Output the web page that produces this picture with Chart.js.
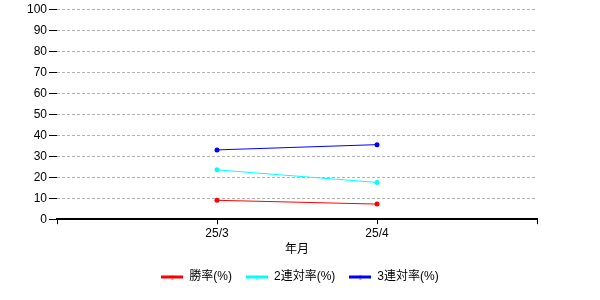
<!DOCTYPE html>
<html>
<head>
<meta charset="utf-8">
<script src="https://cdn.jsdelivr.net/npm/chart.js@4/dist/chart.umd.min.js"></script>
<style>
  html, body { margin: 0; padding: 0; background: #fff; }
  #wrap { width: 600px; height: 300px; }
</style>
</head>
<body>
<div id="wrap"><canvas id="myChart" width="600" height="300"></canvas></div>
<script>
// blank slots at both ends pad the category axis like the original
const months = ["", "25/3", "25/4", ""];
const winRate = [null, 9.0, 7.2, null];
const top2Rate = [null, 23.5, 17.5, null];
const top3Rate = [null, 33.0, 35.5, null];
const yTicks = [0, 10, 20, 30, 40, 50, 60, 70, 80, 90, 100];

const FONT = "'Liberation Sans', 'Noto Sans CJK JP', sans-serif";

// little "line with dot" marker for the legend
function legendMark(color) {
  const c = document.createElement("canvas");
  c.width = 22;
  c.height = 5;
  const g = c.getContext("2d");
  g.fillStyle = color;
  g.fillRect(0, 1, 22, 3);
  g.beginPath();
  g.arc(11, 2.5, 2, 0, Math.PI * 2);
  g.fill();
  return c;
}

function series(label, data, color) {
  return {
    label: label,
    data: data,
    borderColor: color,
    backgroundColor: color,
    borderWidth: 1,
    pointRadius: 2.5,
    pointHoverRadius: 2.5,
    pointBorderWidth: 0,
    pointStyle: "circle",
    legendStyle: legendMark(color),
  };
}

Chart.defaults.font.family = FONT;
Chart.defaults.font.size = 12;
Chart.defaults.color = "#000";

const ctx = document.getElementById("myChart").getContext("2d");
new Chart(ctx, {
  type: "line",
  data: {
    labels: months,
    datasets: [
      series("勝率(%)", winRate, "#ff0000"),
      series("2連対率(%)", top2Rate, "#00ffff"),
      series("3連対率(%)", top3Rate, "#0000ff"),
    ],
  },
  options: {
    responsive: false,
    animation: false,
    layout: {
      padding: { left: 0, right: 0, top: 5, bottom: 7 },
    },
    scales: {
      x: {
        offset: false,
        grid: {
          drawOnChartArea: false,
          drawTicks: true,
          tickLength: 5,
          tickColor: "#000",
        },
        border: { display: true, color: "#000", width: 2 },
        ticks: { padding: 2, maxRotation: 0, autoSkip: false, font: { size: 12 } },
        title: { display: true, text: "年月", padding: { top: 0, bottom: 0 }, font: { size: 12 } },
      },
      y: {
        min: 0,
        max: 100,
        afterFit: (scale) => { scale.width = 57; },
        afterBuildTicks: (scale) => { scale.ticks = yTicks.map((v) => ({ value: v })); },
        grid: {
          color: "#b4b4b4",
          tickColor: "#000",
          tickLength: 8,
          tickBorderDash: [],
        },
        border: { display: false, dash: [3, 2] },
        ticks: { padding: 2, font: { size: 12 } },
      },
      // empty right-hand strip so the legend stays centred on the whole canvas
      yRight: {
        position: "right",
        afterFit: (scale) => { scale.width = 63; },
        grid: { display: false },
        border: { display: false },
        ticks: { display: false },
      },
    },
    plugins: {
      tooltip: { enabled: false },
      legend: {
        position: "bottom",
        labels: {
          usePointStyle: true,
          boxWidth: 22,
          pointStyleWidth: 22,
          padding: 14,
          font: { size: 12 },
          generateLabels: (chart) =>
            chart.data.datasets.map((ds, i) => ({
              text: ds.label,
              pointStyle: ds.legendStyle,
              fillStyle: ds.borderColor,
              strokeStyle: ds.borderColor,
              lineWidth: 0,
              datasetIndex: i,
              hidden: false,
            })),
        },
      },
    },
  },
});
</script>
</body>
</html>
